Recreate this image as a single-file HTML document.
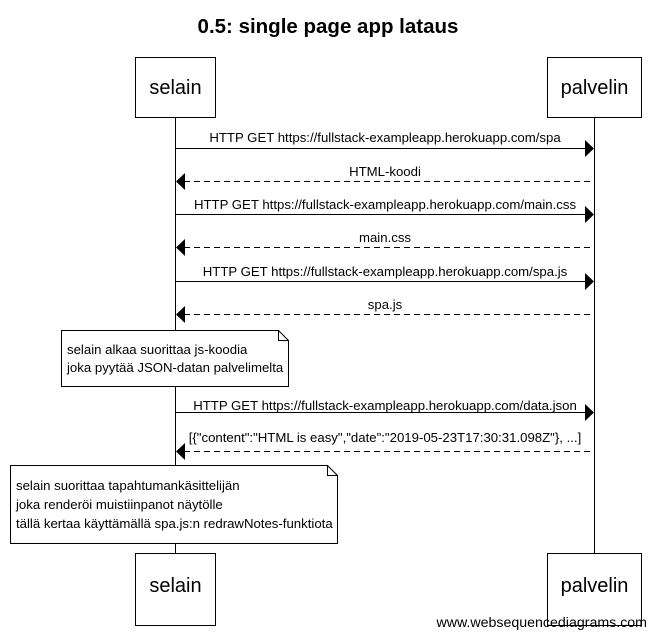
<!DOCTYPE html>
<html><head><meta charset="utf-8"><style>
html,body{margin:0;padding:0;background:#fff}
svg text{font-family:"Liberation Sans",Arial,sans-serif}
</style></head><body>
<svg width="655" height="638" viewBox="0 0 655 638" xmlns="http://www.w3.org/2000/svg">
<text x="328" y="33" font-size="20.5" font-weight="bold" text-anchor="middle">0.5: single page app lataus</text>
<g stroke="#000" fill="#fff" stroke-width="1">
<line x1="175.5" y1="117" x2="175.5" y2="553"/>
<line x1="594.5" y1="117" x2="594.5" y2="553"/>
<rect x="135.5" y="57.5" width="80" height="60"/>
<rect x="547.5" y="57.5" width="94" height="60"/>
<rect x="135.5" y="553.5" width="80" height="72"/>
<rect x="547.5" y="553.5" width="94" height="72"/>
</g>
<g font-size="20" text-anchor="middle">
<text x="175.5" y="94">selain</text><text x="594.5" y="94">palvelin</text>
<text x="175.5" y="592">selain</text><text x="594.5" y="592">palvelin</text>
</g>
<g stroke="#000" stroke-width="1">
<line x1="176" y1="148.5" x2="586" y2="148.5"/>
<line x1="184" y1="181.5" x2="594" y2="181.5" stroke-dasharray="6,4"/>
<line x1="176" y1="214.5" x2="586" y2="214.5"/>
<line x1="184" y1="247.5" x2="594" y2="247.5" stroke-dasharray="6,4"/>
<line x1="176" y1="281.5" x2="586" y2="281.5"/>
<line x1="184" y1="314.5" x2="594" y2="314.5" stroke-dasharray="6,4"/>
<line x1="176" y1="412.5" x2="586" y2="412.5"/>
<line x1="184" y1="451.5" x2="594" y2="451.5" stroke-dasharray="6,4"/>
</g>
<g fill="#000">
<polygon points="594,148.5 585,140 585,157"/>
<polygon points="176,181.5 185,173 185,190"/>
<polygon points="594,214.5 585,206 585,223"/>
<polygon points="176,247.5 185,239 185,256"/>
<polygon points="594,281.5 585,273 585,290"/>
<polygon points="176,314.5 185,306 185,323"/>
<polygon points="594,412.5 585,404 585,421"/>
<polygon points="176,451.5 185,443 185,460"/>
</g>
<g font-size="13.2" text-anchor="middle">
<text x="385" y="142">HTTP GET https://fullstack-exampleapp.herokuapp.com/spa</text>
<text x="385" y="176">HTML-koodi</text>
<text x="385" y="209">HTTP GET https://fullstack-exampleapp.herokuapp.com/main.css</text>
<text x="385" y="242">main.css</text>
<text x="385" y="276">HTTP GET https://fullstack-exampleapp.herokuapp.com/spa.js</text>
<text x="385" y="309">spa.js</text>
<text x="385" y="410">HTTP GET https://fullstack-exampleapp.herokuapp.com/data.json</text>
<text x="385" y="442">[{"content":"HTML is easy","date":"2019-05-23T17:30:31.098Z"}, ...]</text>
</g>
<g stroke="#000" fill="#fff">
<path d="M61.5 330.5 H278.5 L288.5 340.5 V386.5 H61.5 Z"/>
<path d="M278.5 330.5 V340.5 H288.5" fill="none"/>
<path d="M10.5 465.5 H327.5 L337.5 475.5 V543.5 H10.5 Z"/>
<path d="M327.5 465.5 V475.5 H337.5" fill="none"/>
</g>
<g font-size="13.2">
<text x="67" y="354">selain alkaa suorittaa js-koodia</text>
<text x="67" y="372">joka pyytää JSON-datan palvelimelta</text>
<text x="16" y="490">selain suorittaa tapahtumankäsittelijän</text>
<text x="16" y="509">joka renderöi muistiinpanot näytölle</text>
<text x="16" y="528">tällä kertaa käyttämällä spa.js:n redrawNotes-funktiota</text>
</g>
<text x="647" y="627" font-size="14.2" text-anchor="end">www.websequencediagrams.com</text>
</svg>
</body></html>
